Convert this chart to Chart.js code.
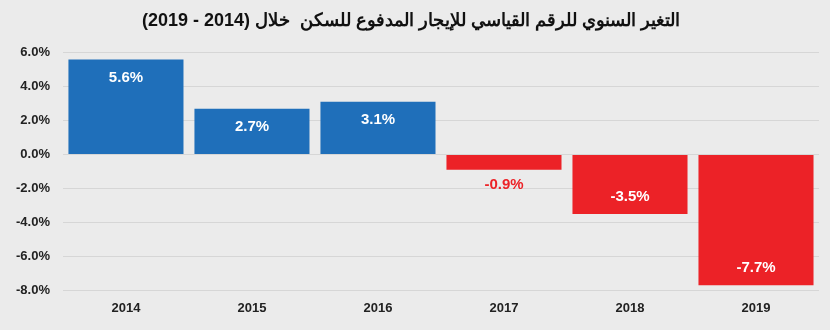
<!DOCTYPE html>
<html><head><meta charset="utf-8">
<script src="https://cdn.jsdelivr.net/npm/chart.js@4/dist/chart.umd.min.js"></script>
<style>html,body{margin:0;padding:0;background:#ebebeb;}#wrap{width:830px;height:330px;}</style>
</head><body><div id="wrap"><canvas id="c" width="830" height="330"></canvas></div>
<script>
const titleText = 'التغير السنوي للرقم القياسي للإيجار المدفوع للسكن  خلال (2014 - 2019)';
const categories = ['2014','2015','2016','2017','2018','2019'];
const values = [5.6, 2.7, 3.1, -0.9, -3.5, -7.7];
const yTicks = [6, 4, 2, 0, -2, -4, -6, -8];
const BLUE = '#1f6fba', RED = '#ec2227';
const colors = values.map(v => v >= 0 ? BLUE : RED);
const FONT = '"Liberation Sans", Arial, sans-serif';

const labelPlugin = {
  id: 'barLabels',
  afterDatasetsDraw(chart) {
    const ctx = chart.ctx;
    const meta = chart.getDatasetMeta(0);
    ctx.save();
    ctx.font = 'bold 15px ' + FONT;
    ctx.textAlign = 'center';
    ctx.textBaseline = 'middle';
    meta.data.forEach((bar, i) => {
      const v = values[i];
      const txt = v.toFixed(1) + '%';
      let y, col;
      if (Math.abs(v) >= 1.5) {
        col = '#ffffff';
        y = v >= 0 ? bar.y + 18 : bar.y - 17;
      } else {
        col = RED;
        y = bar.y + 15;
      }
      ctx.fillStyle = col;
      ctx.fillText(txt, bar.x, y);
    });
    ctx.restore();
  }
};

new Chart(document.getElementById('c'), {
  type: 'bar',
  data: { labels: categories, datasets: [{ data: values, backgroundColor: colors, borderWidth: 0, barPercentage: 0.913, categoryPercentage: 1.0 }] },
  options: {
    responsive: false, animation: false,
    layout: { padding: { left: 3, right: 11, top: 0, bottom: 4 } },
    plugins: {
      legend: { display: false }, tooltip: { enabled: false },
      title: { display: true, text: titleText, color: '#111', font: { family: FONT, size: 18, weight: 'bold' }, padding: { top: 10, bottom: 21 } }
    },
    scales: {
      x: { grid: { display: false, drawTicks: false }, border: { display: false },
           ticks: { color: '#222', font: { family: FONT, size: 13, weight: 'bold' }, padding: 10 } },
      y: { min: -8, max: 6, border: { display: false },
           afterBuildTicks(axis) { axis.ticks = yTicks.map(v => ({ value: v })); },
           grid: { color: '#d6d6d6', lineWidth: 1, drawTicks: false },
           ticks: { color: '#222', padding: 13, font: { family: FONT, size: 13, weight: 'bold' }, callback: v => v.toFixed(1) + '%' } }
    }
  },
  plugins: [labelPlugin]
});
</script></body></html>
